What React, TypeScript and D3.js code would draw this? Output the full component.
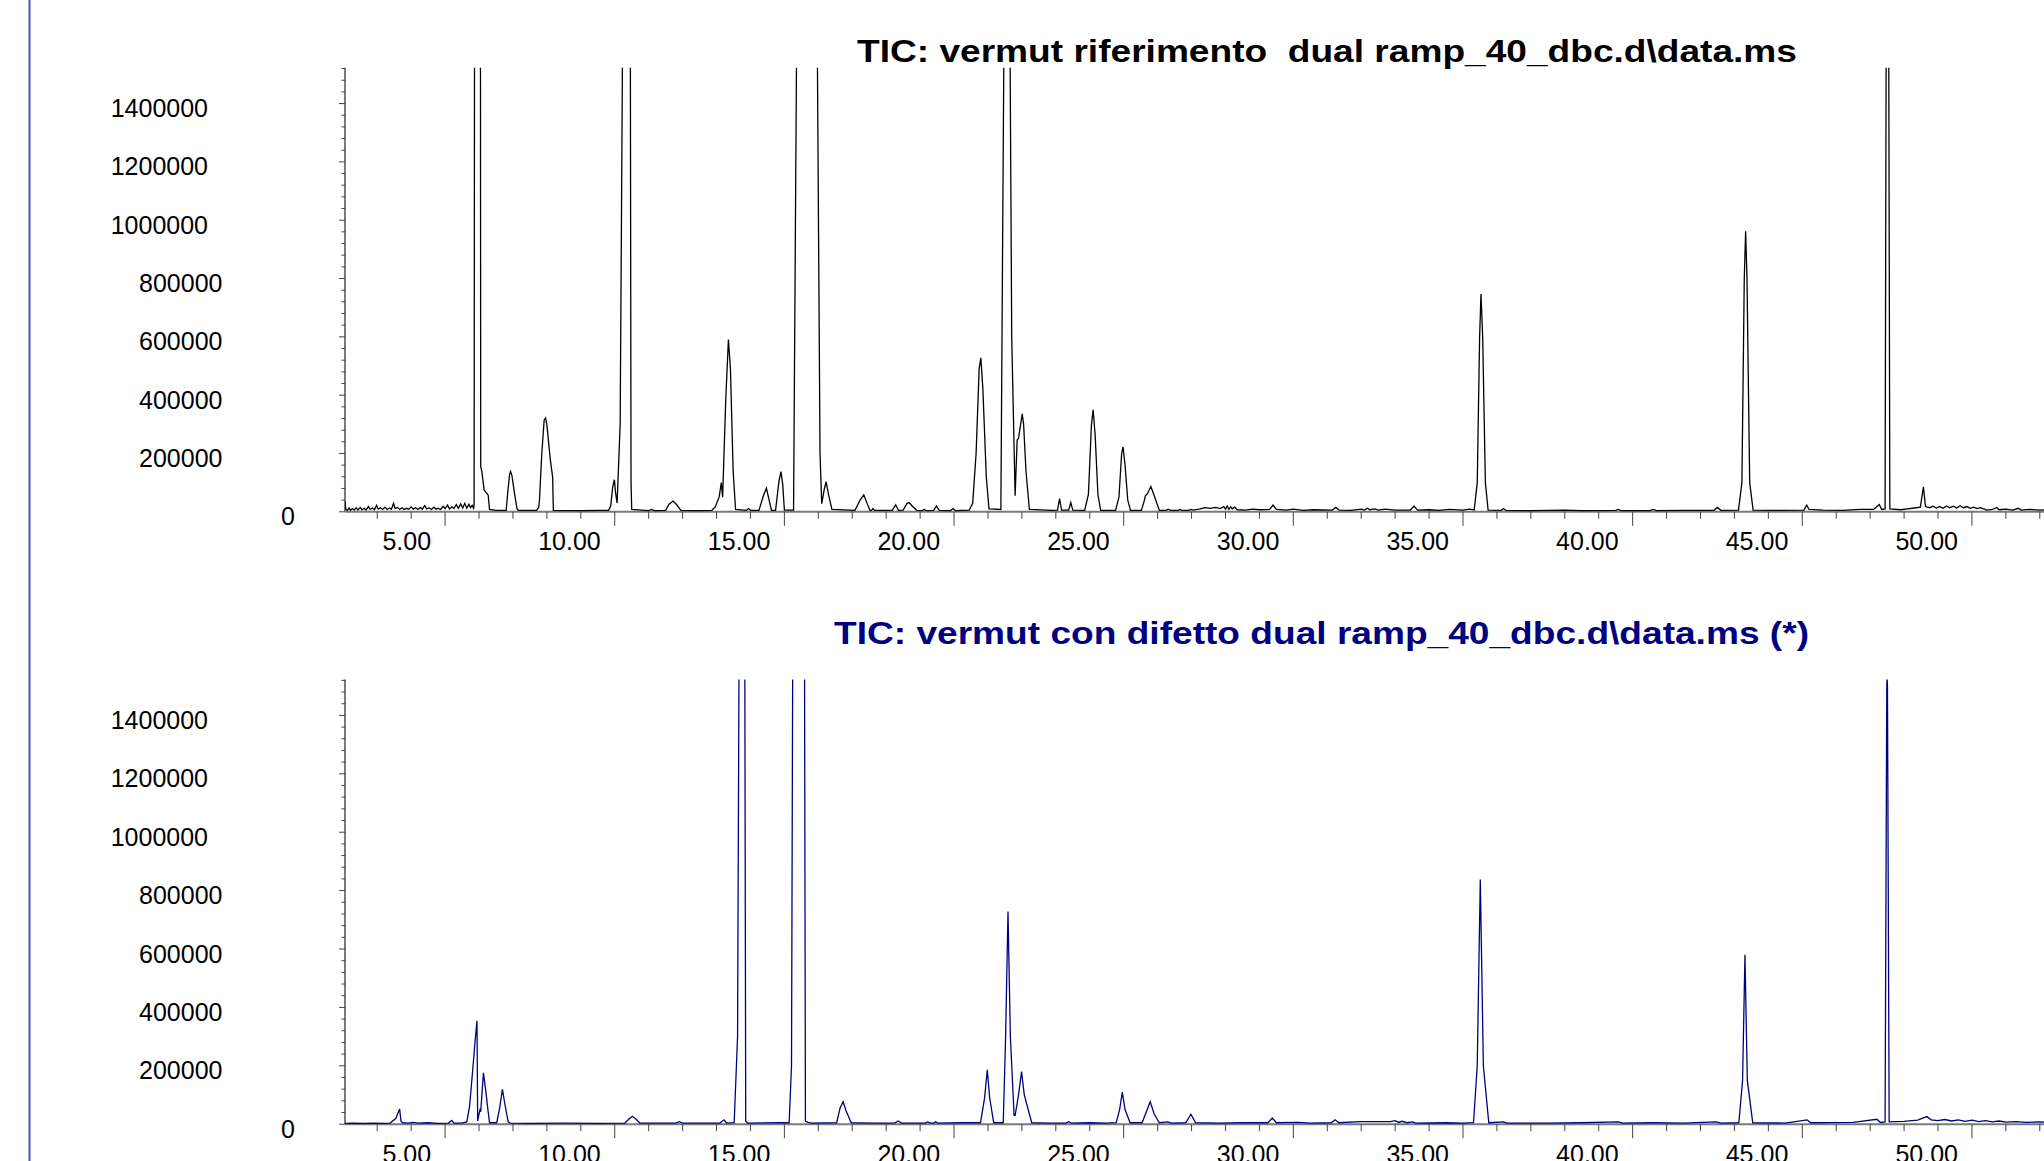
import React from "react";
import * as d3 from "d3";

// titles of the two chromatograms
const refTitle = "TIC: vermut riferimento  dual ramp_40_dbc.d\\data.ms";
const defTitle = "TIC: vermut con difetto dual ramp_40_dbc.d\\data.ms (*)";

// axis ticks
const yTickValues = [0, 200000, 400000, 600000, 800000, 1000000, 1200000, 1400000];
const xTickValues = [5, 10, 15, 20, 25, 30, 35, 40, 45, 50];
const yMax = 1523000;

// reference sample: [retention time (min), abundance]
const refTrace: [number, number][] = [
  [2.05, 36000], [2.07, 9000], [2.12, 5000], [2.17, 13000], [2.21, 5000], [2.27, 11000], [2.32, 6000],
  [2.38, 14000], [2.43, 6000], [2.5, 15000], [2.55, 7000], [2.62, 12000], [2.67, 6000], [2.74, 18000],
  [2.79, 8000], [2.86, 13000], [2.92, 7000], [2.98, 22000], [3.03, 9000], [3.1, 14000], [3.16, 8000],
  [3.23, 16000], [3.29, 8000], [3.36, 13000], [3.42, 9000], [3.48, 29000], [3.53, 11000], [3.6, 15000],
  [3.66, 8000], [3.73, 14000], [3.79, 8000], [3.86, 12000], [3.93, 9000], [4.0, 17000], [4.06, 9000],
  [4.13, 14000], [4.2, 8000], [4.27, 15000], [4.33, 9000], [4.4, 21000], [4.46, 10000], [4.53, 13000],
  [4.6, 8000], [4.67, 16000], [4.73, 9000], [4.8, 12000], [4.87, 8000], [4.94, 19000], [5.0, 11000],
  [5.07, 23000], [5.13, 10000], [5.2, 17000], [5.26, 11000], [5.33, 25000], [5.39, 12000], [5.46, 27000],
  [5.52, 13000], [5.58, 29000], [5.64, 12000], [5.7, 26000], [5.75, 14000], [5.8, 22000], [5.84, 12000],
  [5.855, 20000], [5.87, 2000000], [5.95, 6000000], [6.04, 2000000], [6.05, 155000], [6.08, 140000],
  [6.15, 75000], [6.27, 57000], [6.31, 8000], [6.5, 5000],
  [6.8, 5000], [6.85, 70000], [6.9, 128000], [6.93, 138000], [6.97, 124000], [7.05, 60000], [7.12, 10000], [7.16, 5000],
  [7.7, 5000], [7.76, 16000], [7.78, 38000], [7.85, 200000], [7.92, 315000], [7.96, 322000], [8.0, 298000],
  [8.1, 180000], [8.17, 118000], [8.19, 5000], [9.0, 4000], [9.5, 5000],
  [9.82, 5000], [9.88, 20000], [9.94, 85000], [9.99, 110000], [10.02, 70000], [10.07, 30000], [10.16, 300000],
  [10.23, 1600000], [10.35, 6000000], [10.46, 1600000], [10.48, 100000], [10.5, 8000],
  [11.0, 4000], [11.09, 8000], [11.17, 4000],
  [11.5, 5000], [11.6, 26000], [11.72, 37000], [11.82, 25000], [11.95, 5000], [12.4, 4000],
  [12.86, 5000], [12.96, 16000], [13.08, 52000], [13.14, 100000], [13.18, 50000], [13.27, 380000],
  [13.35, 591000], [13.41, 490000], [13.49, 140000], [13.56, 8000],
  [13.88, 5000], [13.94, 11000], [14.0, 5000],
  [14.25, 5000], [14.38, 55000], [14.47, 81000], [14.55, 40000], [14.62, 5000],
  [14.74, 5000], [14.84, 105000], [14.9, 138000], [14.95, 95000], [15.0, 6000],
  [15.27, 6000], [15.36, 1600000], [15.6, 6000000], [15.97, 1600000], [16.05, 200000], [16.1, 28000],
  [16.18, 80000], [16.23, 103000], [16.3, 60000], [16.4, 8000],
  [17.08, 5000], [17.24, 42000], [17.34, 58000], [17.42, 34000], [17.52, 5000],
  [17.57, 5000], [17.61, 11000], [17.66, 5000],
  [18.18, 5000], [18.28, 24000], [18.36, 5000], [18.5, 6000], [18.62, 30000], [18.68, 31000], [18.78, 18000],
  [18.9, 5000], [19.06, 4000], [19.12, 8000], [19.18, 4000], [19.4, 5000], [19.48, 20000], [19.56, 5000],
  [19.9, 4000], [19.97, 11000], [20.04, 4000],
  [20.45, 6000], [20.55, 30000], [20.65, 200000], [20.74, 490000], [20.79, 528000], [20.85, 420000],
  [20.95, 120000], [21.03, 10000],
  [21.38, 8000], [21.47, 1600000], [21.56, 6000000], [21.65, 1600000], [21.7, 600000], [21.8, 55000],
  [21.86, 246000], [21.9, 252000], [22.01, 336000], [22.05, 300000], [22.12, 140000], [22.22, 8000],
  [22.9, 5000], [23.05, 6000], [23.11, 45000], [23.17, 6000], [23.38, 6000], [23.44, 32000], [23.5, 6000],
  [23.85, 5000], [23.96, 60000], [24.05, 300000], [24.1, 350000], [24.16, 260000], [24.24, 60000], [24.32, 5000],
  [24.76, 5000], [24.86, 50000], [24.94, 200000], [24.98, 223000], [25.04, 160000], [25.12, 40000], [25.2, 5000],
  [25.52, 5000], [25.6, 35000], [25.64, 55000], [25.7, 62000], [25.8, 87000], [25.9, 55000], [26.05, 5000],
  [26.25, 5000], [26.31, 9000], [26.38, 5000], [26.6, 5000], [26.66, 8000], [26.72, 5000], [26.92, 5000],
  [26.98, 8000], [27.05, 6000],
  [27.25, 10000], [27.4, 14000], [27.55, 12000], [27.7, 15000], [27.85, 11000], [27.95, 18000], [28.0, 9000],
  [28.05, 20000], [28.1, 8000], [28.15, 17000], [28.2, 10000], [28.27, 16000], [28.35, 7000], [28.6, 6000],
  [28.8, 9000], [29.0, 7000], [29.3, 8000], [29.4, 23000], [29.5, 8000], [29.8, 6000], [30.0, 9000],
  [30.3, 5000], [30.6, 7000], [31.15, 6000], [31.25, 15000], [31.35, 6000], [31.7, 5000], [32.0, 9000],
  [32.1, 6000], [32.18, 12000], [32.25, 7000], [32.4, 10000], [32.5, 6000], [32.7, 9000], [33.0, 6000],
  [33.45, 6000], [33.56, 20000], [33.66, 6000], [34.0, 7000], [34.3, 5000], [34.6, 8000], [35.0, 6000], [35.2, 9000],
  [35.33, 6000], [35.42, 100000], [35.49, 600000], [35.53, 747000], [35.58, 600000], [35.66, 100000], [35.74, 6000],
  [36.13, 5000], [36.19, 11000], [36.26, 5000], [37.0, 4000], [37.98, 6000], [38.5, 4000], [39.5, 5000],
  [39.58, 8000], [39.66, 4000], [40.5, 4000], [40.61, 8000], [40.7, 4000], [41.5, 5000], [42.4, 5000],
  [42.5, 15000], [42.6, 5000],
  [43.12, 6000], [43.22, 100000], [43.29, 800000], [43.33, 962000], [43.37, 800000], [43.45, 100000], [43.55, 6000],
  [44.3, 5000], [45.05, 6000], [45.13, 23000], [45.2, 8000], [45.6, 6000], [46.2, 5000], [46.7, 8000],
  [47.1, 8000], [47.27, 25000], [47.34, 8000],
  [47.44, 10000], [47.48, 2000000], [47.51, 6000000], [47.54, 2000000], [47.58, 10000],
  [47.9, 7000], [48.1, 10000], [48.3, 13000], [48.48, 16000], [48.57, 86000], [48.63, 18000], [48.75, 14000],
  [48.85, 19000], [48.95, 13000], [49.05, 18000], [49.15, 12000], [49.25, 20000], [49.35, 14000], [49.45, 19000],
  [49.55, 13000], [49.65, 21000], [49.75, 14000], [49.85, 18000], [49.95, 12000], [50.05, 16000], [50.15, 11000],
  [50.25, 14000], [50.44, 6000], [50.6, 8000], [50.73, 15000], [50.8, 7000], [51.0, 9000], [51.2, 6000],
  [51.37, 12000], [51.45, 6000], [51.7, 8000], [52.0, 6000], [52.3, 7000],
];

// defective sample
const defTrace: [number, number][] = [
  [2.05, 3000], [2.3, 4000], [2.6, 3000], [2.9, 4000], [3.2, 3000], [3.38, 4000], [3.55, 20000], [3.66, 52000],
  [3.7, 10000], [3.75, 5000], [3.9, 4000], [4.06, 6000], [4.2, 4000], [4.5, 5000], [4.8, 3000], [5.1, 4000],
  [5.2, 13000], [5.26, 4000], [5.5, 4000], [5.64, 8000], [5.72, 60000], [5.78, 140000], [5.83, 208000],
  [5.88, 280000], [5.94, 354000], [5.96, 11000], [6.0, 35000], [6.03, 49000], [6.05, 43000], [6.13, 176000],
  [6.2, 113000], [6.25, 62000], [6.31, 5000],
  [6.52, 5000], [6.6, 50000], [6.69, 119000], [6.76, 70000], [6.86, 8000], [6.92, 4000],
  [7.5, 3000], [8.5, 4000], [9.5, 3000], [10.3, 4000], [10.42, 18000], [10.52, 27000], [10.62, 18000], [10.74, 4000],
  [11.8, 4000], [11.9, 8500], [12.0, 4000], [13.1, 4000], [13.22, 15000], [13.3, 4000],
  [13.52, 5000], [13.62, 300000], [13.67, 1800000], [13.75, 6000000], [13.83, 1800000], [13.86, 10000], [13.92, 4000],
  [14.9, 5000], [15.14, 5000], [15.21, 200000], [15.25, 1800000], [15.42, 6000000], [15.59, 1800000],
  [15.62, 10000], [15.7, 6000], [15.8, 4000],
  [16.54, 5000], [16.64, 55000], [16.73, 77000], [16.82, 45000], [16.97, 5000],
  [17.6, 4000], [18.25, 4000], [18.35, 11000], [18.45, 4000], [19.15, 4000], [19.22, 8000], [19.3, 4000],
  [19.4, 4000], [19.45, 8000], [19.52, 4000], [20.22, 5000],
  [20.78, 5000], [20.9, 90000], [20.98, 186000], [21.05, 90000], [21.17, 5000],
  [21.45, 5000], [21.52, 300000], [21.59, 728000], [21.66, 300000], [21.77, 30000], [21.8, 30000],
  [21.9, 100000], [21.99, 180000], [22.07, 100000], [22.29, 5000],
  [22.8, 4000], [23.3, 4000], [23.38, 8500], [23.46, 4000], [24.0, 5000], [24.5, 4000],
  [24.78, 5000], [24.88, 50000], [24.96, 110000], [25.04, 50000], [25.19, 5000],
  [25.54, 5000], [25.66, 40000], [25.78, 77000], [25.9, 35000], [26.05, 5000],
  [26.3, 8000], [26.4, 4000], [26.83, 5000], [26.98, 34000], [27.12, 5000], [27.8, 4000], [28.5, 5000],
  [29.25, 5000], [29.38, 21000], [29.5, 5000], [30.16, 6000], [30.5, 4000], [31.12, 5000], [31.23, 15000],
  [31.34, 5000], [31.97, 8500], [32.86, 8500], [33.0, 12000], [33.1, 6000], [33.2, 10000], [33.35, 5000],
  [33.52, 8000], [33.6, 4000], [34.5, 5000], [35.0, 4000],
  [35.31, 5000], [35.42, 200000], [35.51, 838000], [35.6, 200000], [35.76, 5000],
  [36.2, 8000], [36.3, 4000], [37.5, 4000], [38.5, 5000], [39.58, 8000], [39.7, 4000], [40.61, 5000],
  [41.5, 4000], [42.46, 8000], [42.6, 4000],
  [43.13, 5000], [43.24, 150000], [43.31, 580000], [43.38, 150000], [43.54, 5000],
  [44.5, 4000], [45.14, 15000], [45.25, 5000], [46.5, 6000], [47.2, 17000], [47.3, 6000],
  [47.44, 8000], [47.49, 1500000], [47.5, 1530000], [47.51, 1500000], [47.56, 8000],
  [48.0, 10000], [48.4, 14000], [48.67, 26000], [48.8, 15000], [49.0, 12000], [49.2, 16000], [49.4, 11000],
  [49.6, 15000], [49.8, 10000], [50.0, 14000], [50.2, 9000], [50.4, 12000], [50.6, 8000], [50.8, 11000],
  [51.0, 7000], [51.3, 9000], [51.6, 6000], [52.0, 8000], [52.3, 6000],
];

const W = 2044;
const H = 1161;
const font = "'Liberation Sans', Arial, Helvetica, sans-serif";
const axisLeft = 345;

const x = d3.scaleLinear().domain([2.05, 55]).range([axisLeft, axisLeft + (55 - 2.05) * 33.93]);

type PanelProps = {
  id: string;
  trace: [number, number][];
  title: string;
  titleX: number;
  titleY: number;
  titleLen: number;
  titleColor: string;
  lineColor: string;
  yTop: number;
  yBase: number;
};

const Panel = ({ id, trace, title, titleX, titleY, titleLen, titleColor, lineColor, yTop, yBase }: PanelProps) => {
  const y = d3.scaleLinear().domain([0, yMax]).range([yBase, yTop]);
  const line = d3
    .line<[number, number]>()
    .x((d) => x(d[0]))
    .y((d) => y(d[1]));

  const minorY = d3.range(0, yMax, 40000);
  const minorX = d3.range(3, 56, 1);

  return (
    <g>
      <defs>
        <clipPath id={id}>
          <rect x={axisLeft} y={yTop} width={W - axisLeft} height={yBase - yTop + 3} />
        </clipPath>
      </defs>

      {/* y axis */}
      <line x1={axisLeft} x2={axisLeft} y1={yTop} y2={yBase} stroke="#7a7a7a" strokeWidth={2} />
      {minorY.map((v) => (
        <line
          key={"yt" + v}
          x1={axisLeft - (v % 200000 === 0 ? 6 : 3.5)}
          x2={axisLeft}
          y1={y(v)}
          y2={y(v)}
          stroke="#444"
          strokeWidth={1}
        />
      ))}
      {yTickValues.map((v) => {
        const label = String(v);
        return (
          <text
            key={"yl" + v}
            x={208 + (7 - label.length) * 14.5}
            y={y(v) + 13.5}
            textAnchor="end"
            fontFamily={font}
            fontSize={25}
            fill="#000"
          >
            {label}
          </text>
        );
      })}

      {/* x axis */}
      <line x1={axisLeft} x2={W} y1={yBase} y2={yBase} stroke="#7a7a7a" strokeWidth={2} />
      {minorX.map((t) => (
        <line
          key={"xt" + t}
          x1={x(t)}
          x2={x(t)}
          y1={yBase}
          y2={yBase + (t % 5 === 0 ? 14 : 7)}
          stroke="#444"
          strokeWidth={1}
        />
      ))}
      {xTickValues.map((t) => (
        <text
          key={"xl" + t}
          x={x(t) - 14}
          y={yBase + 38.5}
          textAnchor="end"
          fontFamily={font}
          fontSize={25}
          fill="#000"
        >
          {t.toFixed(2)}
        </text>
      ))}

      {/* trace */}
      <path
        d={line(trace) || ""}
        fill="none"
        stroke={lineColor}
        strokeWidth={1.3}
        clipPath={`url(#${id})`}
      />

      {/* title */}
      <text
        x={titleX}
        y={titleY}
        fontFamily={font}
        fontWeight="bold"
        fontSize={31}
        fill={titleColor}
        textLength={titleLen}
        lengthAdjust="spacingAndGlyphs"
        style={{ whiteSpace: "pre" }}
      >
        {title}
      </text>
    </g>
  );
};

export default function App() {
  return (
    <svg
      width={W}
      height={H}
      viewBox={`0 0 ${W} ${H}`}
      style={{ position: "absolute", left: 0, top: 0, display: "block", background: "#fff" }}
    >
      <rect x={0} y={0} width={W} height={H} fill="#fff" />
      <line x1={29.5} x2={29.5} y1={0} y2={H} stroke="#4a52c4" strokeWidth={2} />
      <Panel
        id="clipRef"
        trace={refTrace}
        title={refTitle}
        titleX={857}
        titleY={62}
        titleLen={940}
        titleColor="#000"
        lineColor="#000"
        yTop={67.7}
        yBase={511.8}
      />
      <Panel
        id="clipDef"
        trace={defTrace}
        title={defTitle}
        titleX={834}
        titleY={644}
        titleLen={975}
        titleColor="#000080"
        lineColor="#000080"
        yTop={679.5}
        yBase={1124.2}
      />
    </svg>
  );
}
